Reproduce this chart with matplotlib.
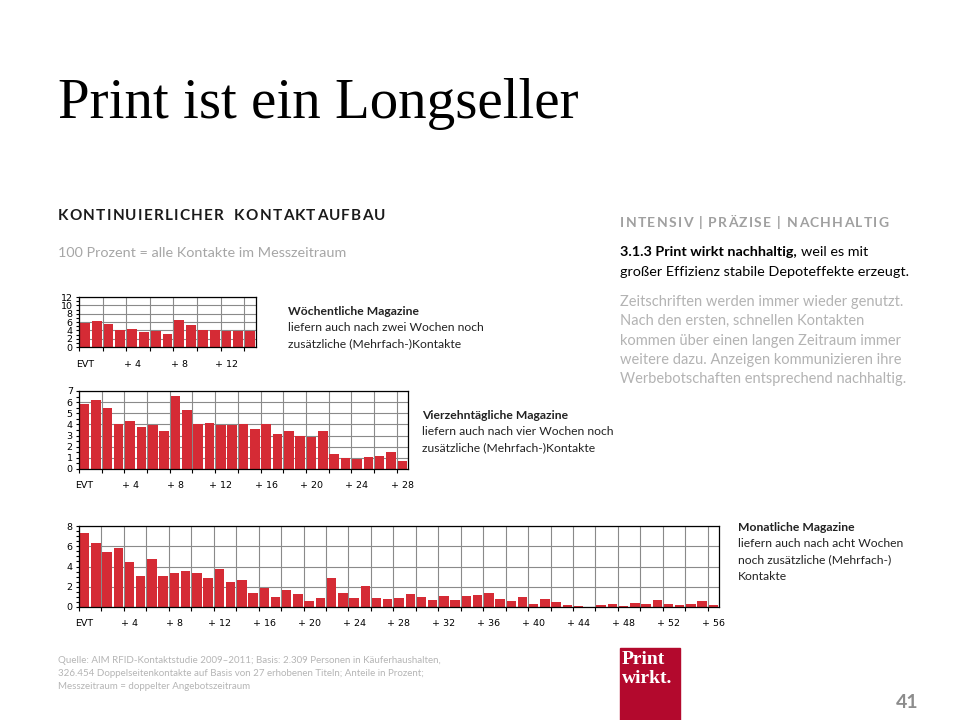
import matplotlib.pyplot as plt
from matplotlib.patches import Rectangle

# data (share of contacts per day, in percent)
weekly = [5.8, 6.3, 5.5, 4.1, 4.3, 3.7, 3.8, 3.2, 6.5, 5.2, 4.1, 4.1, 3.8, 3.8, 3.8]
biweekly = [5.83, 6.19, 5.48, 4.08, 4.32, 3.78, 3.99, 3.42, 6.55, 5.3, 4.08, 4.17, 3.99, 3.99,
            4.0, 3.6, 4.0, 3.15, 3.42, 2.98, 2.89, 3.42, 1.37, 1.01, 0.92, 1.07, 1.19, 1.55, 0.74]
monthly = [7.31, 6.30, 5.41, 5.80, 4.43, 3.05, 4.75, 3.05, 3.34, 3.54, 3.34, 2.85, 3.74, 2.46,
           2.66, 1.38, 1.87, 0.98, 1.67, 1.28, 0.59, 0.89, 2.85, 1.38, 0.89, 2.07, 0.89, 0.79,
           0.89, 1.28, 0.98, 0.69, 1.08, 0.69, 1.08, 1.18, 1.38, 0.79, 0.59, 0.98, 0.30, 0.79,
           0.49, 0.20, 0.10, 0.0, 0.20, 0.30, 0.10, 0.39, 0.30, 0.69, 0.30, 0.20, 0.30, 0.59, 0.20]

weekly_labels = ['EVT', '+ 4', '+ 8', '+ 12']
biweekly_labels = weekly_labels + ['+ 16', '+ 20', '+ 24', '+ 28']
monthly_labels = biweekly_labels + ['+ 32', '+ 36', '+ 40', '+ 44', '+ 48', '+ 52', '+ 56']

RED = '#d52b35'
GRID = '#8a8a8a'
SANS = ['Lato', 'DejaVu Sans']

W, H = 960, 720
fig = plt.figure(figsize=(9.6, 7.2), dpi=100)
renderer = fig.canvas.get_renderer()


def T(x, y, s, size=10, color='black', weight='normal', family=SANS, **kw):
    return fig.text(x / W, 1 - y / H, s, fontsize=size, color=color, weight=weight,
                    family=family, va='baseline', ha=kw.pop('ha', 'left'), **kw)


def width(s, size, weight):
    t = T(0, 0, s, size=size, weight=weight)
    w = t.get_window_extent(renderer).width
    t.remove()
    return w


def spaced(x, y, s, size, spacing, color, weight='bold'):
    # letter-spaced text, one glyph at a time
    for i, ch in enumerate(s):
        if ch == ' ':
            continue
        left = width(s[:i + 1], size, weight) - width(ch, size, weight)
        T(x + left + i * spacing, y, ch, size=size, color=color, weight=weight)


def chart(left, top, right, bottom, values, labels, ymax, ystep, minor_step):
    ax = fig.add_axes([left / W, 1 - bottom / H, (right - left) / W, (bottom - top) / H])
    n = len(values)
    x = list(range(n))
    ax.bar(x, values, width=0.84, color=RED, zorder=2)
    ax.set_xlim(-0.5, n - 0.5)
    ax.set_ylim(0, ymax)
    ax.set_axisbelow(True)
    # major x ticks on every second bar boundary (grid), labels as minor ticks
    bounds = [-0.5 + 2 * k for k in range(n // 2 + 1)]
    ax.set_xticks(bounds)
    ax.set_xticklabels([''] * len(bounds))
    ax.set_xticks([4 * i for i in range(len(labels))], labels, minor=True)
    ax.tick_params(axis='x', which='major', length=3, width=0.8, direction='out')
    ax.tick_params(axis='x', which='minor', length=0, pad=9, labelsize=6.8)
    yt = [ystep * i for i in range(int(ymax / ystep) + 1)]
    ax.set_yticks(yt)
    ax.set_yticklabels([str(v) for v in yt])
    ax.set_yticks([minor_step * i for i in range(int(ymax / minor_step) + 1)], minor=True)
    ax.tick_params(axis='y', which='both', length=2.5, width=0.8, pad=2, labelsize=6.8)
    ax.grid(which='major', color=GRID, lw=0.8)
    for sp in ax.spines.values():
        sp.set_linewidth(0.9)
    return ax


chart(79, 297, 256, 347, weekly, weekly_labels, 12, 2, 1)
chart(79, 391, 408, 469, biweekly, biweekly_labels, 7, 1, 0.5)
chart(79, 526, 719, 607, monthly, monthly_labels, 8, 2, 0.5)

# title and headings
T(58, 118, 'Print ist ein Longseller', size=41, family=['Liberation Serif'])
spaced(58, 220, 'KONTINUIERLICHER  KONTAKTAUFBAU', 11, 1.2, '#1a1a1a')
T(58, 257, '100 Prozent = alle Kontakte im Messzeitraum', size=10.4, color='#a6a6a6')

spaced(620, 227, 'INTENSIV | PRÄZISE | NACHHALTIG', 10, 1.3, '#a0a0a0')
bold = T(620, 256, '3.1.3 Print wirkt nachhaltig,', size=10.4, weight='bold')
bx = bold.get_window_extent(renderer).x1
T(bx + 4, 256, 'weil es mit', size=10.4)
T(620, 276, 'großer Effizienz stabile Depoteffekte erzeugt.', size=10.4)
para = ['Zeitschriften werden immer wieder genutzt.',
        'Nach den ersten, schnellen Kontakten',
        'kommen über einen langen Zeitraum immer',
        'weitere dazu. Anzeigen kommunizieren ihre',
        'Werbebotschaften entsprechend nachhaltig.']
for i, line in enumerate(para):
    T(620, 306 + i * 19.3, line, size=10.5, color='#b3b3b3')

# chart notes
notes = [
    (288, 315, ['Wöchentliche Magazine', 'liefern auch nach zwei Wochen noch',
                'zusätzliche (Mehrfach-)Kontakte']),
    (422, 419, ['Vierzehntägliche Magazine', 'liefern auch nach vier Wochen noch',
                'zusätzliche (Mehrfach-)Kontakte']),
    (738, 531, ['Monatliche Magazine', 'liefern auch nach acht Wochen',
                'noch zusätzliche (Mehrfach-)', 'Kontakte']),
]
for x0, y0, lines in notes:
    for i, line in enumerate(lines):
        T(x0, y0 + i * 16.3, line, size=8.7, color='#222222',
          weight='bold' if i == 0 else 'normal')

# source
src = ['Quelle: AIM RFID-Kontaktstudie 2009–2011; Basis: 2.309 Personen in Käuferhaushalten,',
       '326.454 Doppelseitenkontakte auf Basis von 27 erhobenen Titeln; Anteile in Prozent;',
       'Messzeitraum = doppelter Angebotszeitraum']
for i, line in enumerate(src):
    T(58, 663 + i * 13, line, size=7.0, color='#b5b5b5')

# logo and page number
fig.patches.append(Rectangle((620 / W, 0), 60 / W, 72 / H, transform=fig.transFigure,
                             color='#b3092d', zorder=1))
T(622, 664, 'Print', size=14, weight='bold', color='white', family=['Liberation Serif'])
T(622, 683, 'wirkt.', size=14, weight='bold', color='white', family=['Liberation Serif'])
T(918, 708, '41', size=14, weight='bold', color='#8c8c8c', ha='right')

plt.savefig('out.png', dpi=100)
